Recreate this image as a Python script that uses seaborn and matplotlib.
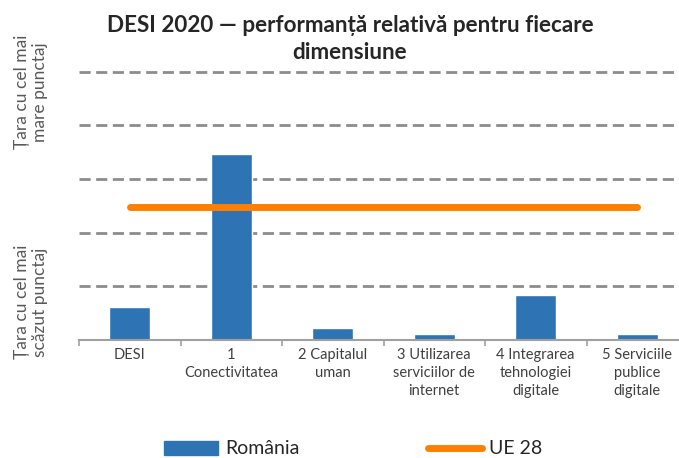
import numpy as np
import matplotlib.pyplot as plt
import seaborn as sns
from matplotlib.lines import Line2D
from matplotlib.patches import Patch

# date
categorii = ["DESI", "1\nConectivitatea", "2 Capitalul\numan",
             "3 Utilizarea\nserviciilor de\ninternet",
             "4 Integrarea\ntehnologiei\ndigitale",
             "5 Serviciile\npublice\ndigitale"]
romania = [0.62, 3.47, 0.22, 0.11, 0.83, 0.11]
ue28 = [2.48, 2.48, 2.48, 2.48, 2.48, 2.48]

albastru = "#2E74B5"
portocaliu = "#FF8000"
gri = "#595959"

sns.set_style("white")
plt.rcParams['font.family'] = ['Lato', 'DejaVu Sans']

fig = plt.figure(figsize=(6.79, 4.58), dpi=100)
ax = fig.add_axes([79 / 679, 1 - 340 / 458, 609 / 679, 271 / 458])

sns.barplot(x=categorii, y=romania, color=albastru, width=0.4, ax=ax,
            saturation=1)
sns.lineplot(x=np.arange(len(categorii)), y=ue28, color=portocaliu, lw=5,
             ax=ax, solid_capstyle='round')

ax.set_xlim(-0.5, 5.5)
ax.set_ylim(0, 5.05)
ax.set_yticks([1, 2, 3, 4, 5])
ax.set_yticklabels([])
ax.tick_params(axis='y', length=0)
ax.yaxis.grid(True, ls=(0, (4, 2)), color="#8C8C8C", lw=2)
ax.set_axisbelow(True)

ax.set_xticks(np.arange(-0.5, 6, 1), minor=True)
ax.tick_params(axis='x', which='major', length=0, pad=6, labelsize=10.5,
               labelcolor="#404040")
for lbl in ax.get_xticklabels():
    lbl.set_linespacing(1.35)
ax.tick_params(axis='x', which='minor', length=4, width=1.2, color="#A0A0A0",
               direction='out', bottom=True)
for s in ['top', 'right', 'left']:
    ax.spines[s].set_visible(False)
ax.spines['bottom'].set_color("#A0A0A0")
ax.spines['bottom'].set_linewidth(1.5)

fig.text(350 / 679, 1 - 39 / 458,
         "DESI 2020 — performanță relativă pentru fiecare\ndimensiune",
         ha='center', va='center', fontsize=16.2, fontweight='bold',
         linespacing=1.4)

fig.text(31 / 679, 1 - 92 / 458, "Țara cu cel mai\nmare punctaj", rotation=90,
         ha='center', va='center', fontsize=12.5, color=gri, linespacing=1.15)
fig.text(31 / 679, 1 - 302 / 458, "Țara cu cel mai\nscăzut punctaj", rotation=90,
         ha='center', va='center', fontsize=12.5, color=gri, linespacing=1.15)

handles = [Patch(color=albastru), Line2D([], [], color=portocaliu, lw=5)]
fig.legend(handles, ["România", "UE 28"], loc='center',
           bbox_to_anchor=(353 / 679, 1 - 449 / 458), ncol=2, frameon=False,
           fontsize=14, handlelength=2.8, columnspacing=6.6,
           handletextpad=0.35)

fig.savefig("out.png", dpi=100)
